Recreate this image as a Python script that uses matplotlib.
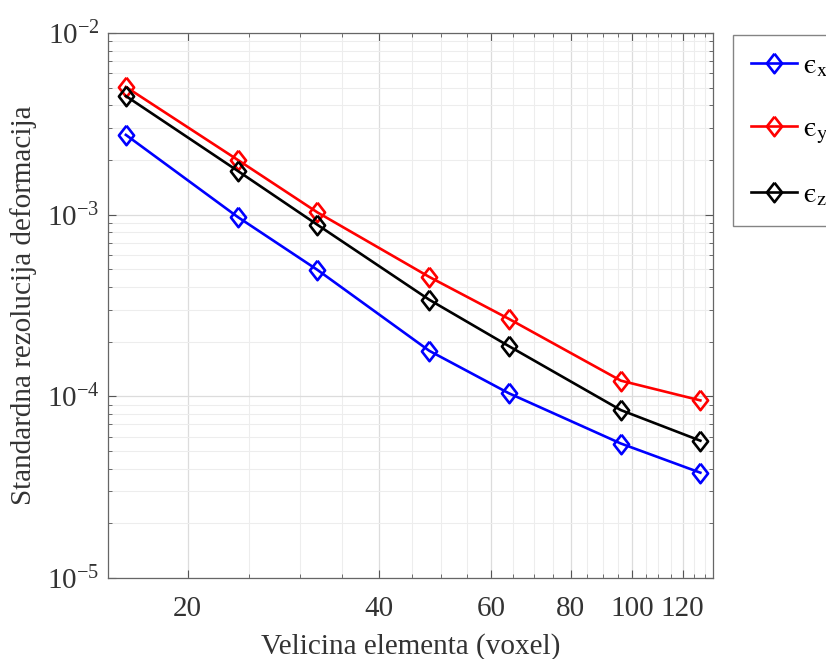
import numpy as np
import matplotlib
matplotlib.use("Agg")
import matplotlib.pyplot as plt
from matplotlib.ticker import FixedLocator, FixedFormatter, MultipleLocator, LogLocator, NullFormatter

plt.rcParams["font.family"] = ["Liberation Serif", "DejaVu Serif"]
plt.rcParams["mathtext.fontset"] = "stix"

# velicina elementa (voxel)
element_size = [16, 24, 32, 48, 64, 96, 128]

# standardna rezolucija deformacija
eps_x = [2.75e-3, 9.7e-4, 4.97e-4, 1.78e-4, 1.04e-4, 5.5e-5, 3.8e-5]
eps_y = [5.05e-3, 2.0e-3, 1.03e-3, 4.54e-4, 2.67e-4, 1.22e-4, 9.5e-5]
eps_z = [4.5e-3, 1.74e-3, 8.8e-4, 3.4e-4, 1.89e-4, 8.4e-5, 5.7e-5]

series_labels = ["$\\mathrm{\u03f5}_{\\mathrm{x}}$", "$\\mathrm{\u03f5}_{\\mathrm{y}}$",
                 "$\\mathrm{\u03f5}_{\\mathrm{z}}$"]
series_colors = ["#0000ff", "#ff0000", "#000000"]
x_ticks = [20, 40, 60, 80, 100, 120]

# MATLAB-like diamond (a bit taller than wide)
diamond = [(0, 1), (0.78, 0), (0, -1), (-0.78, 0), (0, 1)]

fig = plt.figure(figsize=(8.26, 6.59), dpi=100)
ax = fig.add_axes([0.1308, 0.1229, 0.7324, 0.827])

for vals, lab, col in zip([eps_x, eps_y, eps_z], series_labels, series_colors):
    ax.plot(element_size, vals, color=col, lw=1.9, marker=diamond,
            markersize=14, markerfacecolor="none", markeredgewidth=1.9,
            label=lab)

ax.set_xscale("log")
ax.set_yscale("log")
ax.set_xlim(15, 134)
ax.set_ylim(1e-5, 1e-2)

ax.xaxis.set_major_locator(FixedLocator(x_ticks))
ax.xaxis.set_major_formatter(FixedFormatter([str(t) for t in x_ticks]))
ax.xaxis.set_minor_locator(MultipleLocator(5))
ax.xaxis.set_minor_formatter(NullFormatter())
ax.yaxis.set_major_locator(LogLocator(base=10, numticks=10))
ax.yaxis.set_minor_locator(LogLocator(base=10, subs=np.arange(2, 10), numticks=20))
ax.yaxis.set_minor_formatter(NullFormatter())

ax.grid(True, which="major", color="#dcdcdc", lw=0.9)
ax.grid(True, which="minor", color="#ededed", lw=0.8)
ax.set_axisbelow(True)

ax.tick_params(which="both", direction="in", top=True, right=True, colors="#555555",
               labelcolor="#333333")
ax.tick_params(which="major", length=6, width=0.8)
ax.tick_params(which="minor", length=3, width=0.6)
ax.tick_params(axis="x", labelsize=21, pad=13)
ax.tick_params(axis="y", labelsize=21, pad=6)
for s in ax.spines.values():
    s.set_color("#666666")
    s.set_linewidth(0.9)

ax.set_xlabel("Velicina elementa (voxel)", fontsize=21, color="#333333", labelpad=8)
ax.set_ylabel("Standardna rezolucija deformacija", fontsize=21, color="#333333", labelpad=7)

fig.legend(loc="upper left", bbox_to_anchor=(733 / 826, 1 - 35 / 659),
           fontsize=21, frameon=True, fancybox=False, edgecolor="#666666",
           handlelength=1.6, labelspacing=1.25, handletextpad=0.2,
           borderpad=0.6, borderaxespad=0)

fig.savefig("out.png", dpi=100)
